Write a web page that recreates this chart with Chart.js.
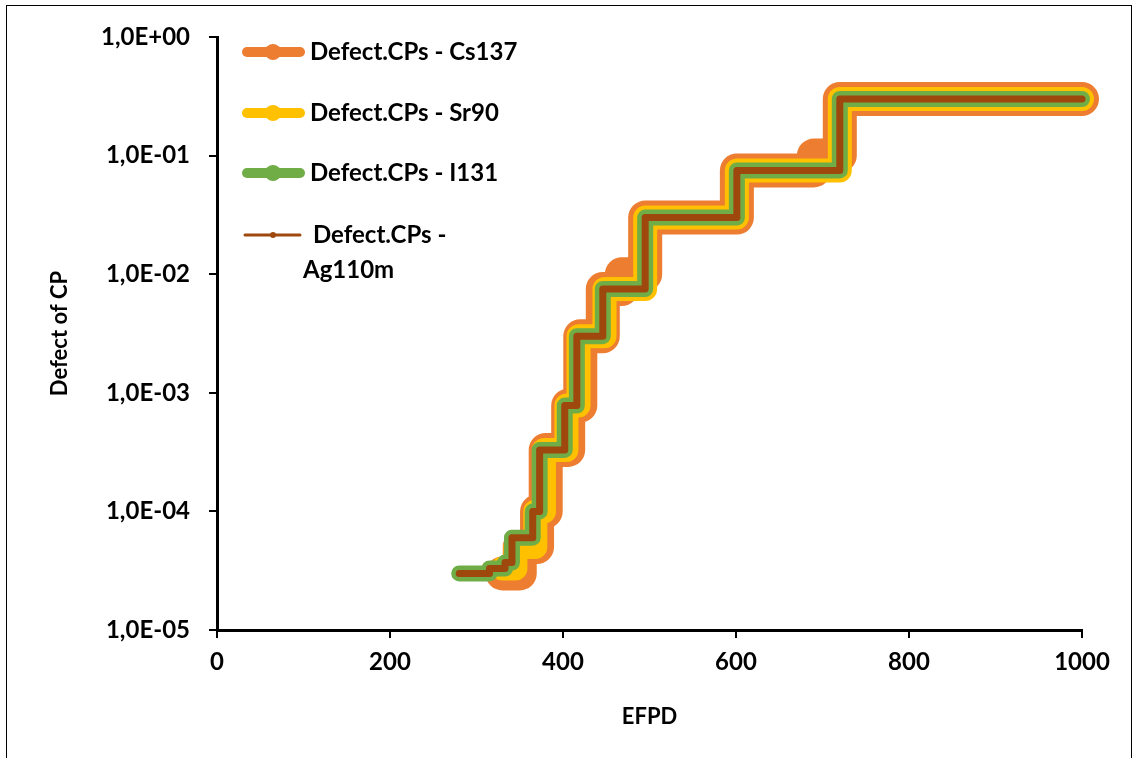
<!DOCTYPE html>
<html>
<head>
<meta charset="utf-8">
<script src="https://cdn.jsdelivr.net/npm/chart.js@4.4.0/dist/chart.umd.min.js"></script>
<style>
  body { margin: 0; background: #fff; }
  #wrap { position: relative; width: 1133px; height: 758px; overflow: hidden; }
  #frame { position: absolute; left: 6px; top: 5px; width: 1124px; height: 800px; border: 1.5px solid #000; pointer-events: none; }
</style>
</head>
<body>
<div id="wrap">
  <canvas id="chart" width="1133" height="758"></canvas>
  <div id="frame"></div>
</div>
<script>
// EFPD where each level starts, and the defect value of that level
var csX = [330, 350, 370, 380, 406, 420, 446, 468, 495, 601, 690, 720, 1000];
var csY = [3.0e-5, 5.0e-5, 1.0e-4, 3.3e-4, 7.8e-4, 3.0e-3, 7.5e-3, 1.0e-2, 3.0e-2, 7.5e-2, 1.0e-1, 0.3, 0.3];

var srX = [330, 345, 368, 378, 404, 418, 448, 495, 601, 720, 1000];
var srY = [3.3e-5, 5.0e-5, 1.0e-4, 3.3e-4, 7.8e-4, 3.0e-3, 7.5e-3, 3.0e-2, 7.5e-2, 0.3, 0.3];

var iX = [280, 315, 333, 341, 365, 373, 402, 416, 446, 495, 601, 720, 1000];
var iY = [3.0e-5, 3.3e-5, 3.7e-5, 6.0e-5, 1.0e-4, 3.3e-4, 7.8e-4, 3.0e-3, 7.5e-3, 3.0e-2, 7.5e-2, 0.3, 0.3];

var agX = [280, 315, 333, 341, 365, 373, 402, 416, 446, 495, 601, 720, 1000];
var agY = [3.0e-5, 3.3e-5, 3.7e-5, 6.0e-5, 1.0e-4, 3.3e-4, 7.8e-4, 3.0e-3, 7.5e-3, 3.0e-2, 7.5e-2, 0.3, 0.3];

var seriesNames = ['Defect.CPs - Cs137', 'Defect.CPs - Sr90', 'Defect.CPs - I131', 'Defect.CPs - Ag110m'];
var xTicks = [0, 200, 400, 600, 800, 1000];
var yTicks = [1e-5, 1e-4, 1e-3, 1e-2, 1e-1, 1];

var FONT = 'Lato, "Open Sans", sans-serif';
var FSIZE = 24;

function pts(xs, ys) {
    return xs.map(function (x, i) { return { x: x, y: ys[i] }; });
}

function sciLabel(v) {
    var e = Math.round(Math.log10(v));
    var s = String(Math.abs(e));
    if (s.length < 2) s = '0' + s;
    return '1,0E' + (e < 0 ? '-' : '+') + s;
}

function makeSet(name, xs, ys, color, width, radius, order, legW, legR) {
    return {
        label: name,
        data: pts(xs, ys),
        borderColor: color,
        backgroundColor: color,
        pointBackgroundColor: color,
        pointBorderColor: color,
        borderWidth: width,
        pointRadius: radius,
        pointBorderWidth: 0,
        borderCapStyle: 'round',
        borderJoinStyle: 'round',
        stepped: true,
        fill: false,
        clip: 30,
        order: order,
        legendWidth: legW,
        legendRadius: legR
    };
}

var lineLegend = {
    id: 'lineLegend',
    afterDraw: function (chart) {
        var ctx = chart.ctx;
        var rows = [52, 113, 173, 235];
        ctx.save();
        chart.data.datasets.forEach(function (ds, i) {
            var y = rows[i];
            ctx.strokeStyle = ds.borderColor;
            ctx.fillStyle = ds.borderColor;
            ctx.lineWidth = ds.legendWidth;
            ctx.lineCap = 'round';
            ctx.beginPath();
            ctx.moveTo(i === 3 ? 245 : 247, y);
            ctx.lineTo(i === 3 ? 300 : 300, y);
            ctx.stroke();
            ctx.beginPath();
            ctx.arc(273, y, ds.legendRadius, 0, Math.PI * 2);
            ctx.fill();

            ctx.fillStyle = '#000';
            ctx.font = 'bold ' + FSIZE + 'px ' + FONT;
            ctx.textBaseline = 'middle';
            ctx.textAlign = 'left';
            if (i === 3) {
                ctx.fillText('Defect.CPs -', 313, y);
                ctx.fillText('Ag110m', 303, y + 35);
            } else {
                ctx.fillText(ds.label, 310, y);
            }
        });
        ctx.restore();
    }
};

var config = {
    type: 'line',
    data: {
        datasets: [
            makeSet(seriesNames[0], csX, csY, '#ED7D31', 34, 13, 4, 10, 8),
            makeSet(seriesNames[1], srX, srY, '#FFC000', 24, 10, 3, 10, 8),
            makeSet(seriesNames[2], iX, iY, '#70AD47', 16, 7, 2, 10, 8),
            makeSet(seriesNames[3], agX, agY, '#9E480E', 7, 3, 1, 3, 3)
        ]
    },
    options: {
        responsive: false,
        animation: false,
        layout: {
            padding: { left: 47, right: 51, top: 37, bottom: 28 }
        },
        plugins: {
            legend: { display: false },
            tooltip: { enabled: false }
        },
        scales: {
            x: {
                type: 'linear',
                min: 0,
                max: 1000,
                afterBuildTicks: function (scale) {
                    scale.ticks = xTicks.map(function (v) { return { value: v }; });
                },
                afterFit: function (scale) { scale.height = 100; },
                grid: { drawOnChartArea: false, drawTicks: true, tickLength: 8, color: '#000', lineWidth: 2 },
                border: { display: true, color: '#000', width: 3 },
                ticks: {
                    color: '#000',
                    padding: 10,
                    font: { family: FONT, size: FSIZE, weight: 'bold' },
                    callback: function (v) { return String(v); }
                },
                title: {
                    display: true,
                    text: 'EFPD',
                    color: '#000',
                    padding: 0,
                    font: { family: FONT, size: FSIZE - 2, weight: 'bold' }
                }
            },
            y: {
                type: 'logarithmic',
                min: 1e-5,
                max: 1,
                afterBuildTicks: function (scale) {
                    scale.ticks = yTicks.map(function (v) { return { value: v }; });
                },
                afterFit: function (scale) { scale.width = 170; },
                grid: { drawOnChartArea: false, drawTicks: true, tickLength: 8, color: '#000', lineWidth: 2 },
                border: { display: true, color: '#000', width: 3 },
                ticks: {
                    color: '#000',
                    padding: 19,
                    font: { family: FONT, size: FSIZE, weight: 'bold' },
                    callback: function (v) { return sciLabel(v); }
                },
                title: {
                    display: true,
                    text: 'Defect of CP',
                    color: '#000',
                    padding: 0,
                    font: { family: FONT, size: FSIZE - 2, weight: 'bold' }
                }
            }
        }
    },
    plugins: [lineLegend]
};

var ctx = document.getElementById('chart').getContext('2d');
var myChart = new Chart(ctx, config);
</script>
</body>
</html>
